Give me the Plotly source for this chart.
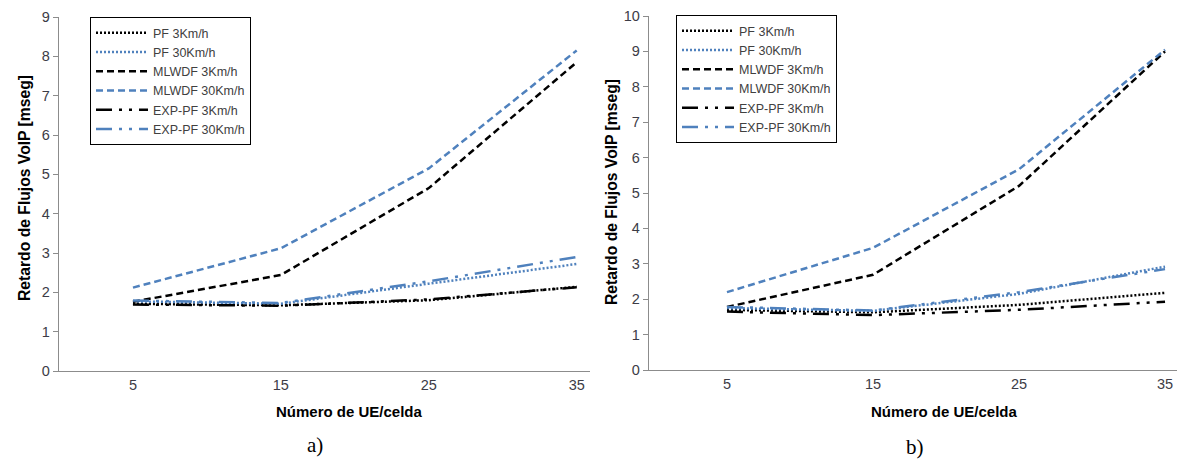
import plotly.graph_objects as go

W, H = 1177, 463

ue = [5, 15, 25, 35]
x_ticks = [5, 15, 25, 35]

# Panel a)
a_pf_3 = [1.71, 1.67, 1.80, 2.14]
a_pf_30 = [1.77, 1.71, 2.22, 2.72]
a_mlwdf_3 = [1.76, 2.44, 4.65, 7.85]
a_mlwdf_30 = [2.12, 3.12, 5.15, 8.15]
a_exp_3 = [1.69, 1.66, 1.82, 2.13]
a_exp_30 = [1.79, 1.73, 2.28, 2.90]

# Panel b)
b_pf_3 = [1.70, 1.63, 1.84, 2.18]
b_pf_30 = [1.75, 1.67, 2.15, 2.92]
b_mlwdf_3 = [1.78, 2.69, 5.20, 9.00]
b_mlwdf_30 = [2.20, 3.45, 5.67, 9.05]
b_exp_3 = [1.65, 1.55, 1.70, 1.93]
b_exp_30 = [1.78, 1.68, 2.20, 2.85]

names = ["PF 3Km/h", "PF 30Km/h", "MLWDF 3Km/h", "MLWDF 30Km/h",
         "EXP-PF 3Km/h", "EXP-PF 30Km/h"]

BLACK = "#000000"
BLUE = "#4F81BD"
DOT = "2px,2px"
DASH = "7px,4px"
LDD = "16px,7px,3px,7px,3px,7px"
styles = [(BLACK, DOT), (BLUE, DOT), (BLACK, DASH), (BLUE, DASH),
          (BLACK, LDD), (BLUE, LDD)]

fig = go.Figure()

for series, xa, ya, leg in [
    ([a_pf_3, a_pf_30, a_mlwdf_3, a_mlwdf_30, a_exp_3, a_exp_30], "x", "y", "legend"),
    ([b_pf_3, b_pf_30, b_mlwdf_3, b_mlwdf_30, b_exp_3, b_exp_30], "x2", "y2", "legend2"),
]:
    for vals, name, (col, dash) in zip(series, names, styles):
        fig.add_trace(go.Scatter(
            x=ue, y=vals, name=name, mode="lines",
            line=dict(color=col, dash=dash, width=2.5),
            xaxis=xa, yaxis=ya, legend=leg,
        ))

def px_x(p):
    return p / W

def px_y(p):
    return 1 - p / H

tickfont = dict(family="Liberation Sans, Arial, sans-serif", size=14.5, color="#3c3c46")
titlefont = dict(family="Liberation Sans, Arial, sans-serif", size=15, color="#000000")
ytitlefont = dict(family="Liberation Sans, Arial, sans-serif", size=15.7, color="#000000")
axis_common = dict(showgrid=False, zeroline=False, showline=True, automargin=False,
                   linecolor="#8c8c8c", linewidth=1.3, tickfont=tickfont)

legend_font = dict(family="Liberation Sans, Arial, sans-serif", size=12.5, color="#404040")

fig.update_layout(
    width=W, height=H,
    margin=dict(l=0, r=0, t=0, b=0, autoexpand=False),
    paper_bgcolor="white", plot_bgcolor="white",
    showlegend=True,
    xaxis=dict(domain=[px_x(59), px_x(590)], range=[0, 35.9],
               tickvals=x_ticks, ticks="", anchor="y", **axis_common),
    yaxis=dict(domain=[px_y(371), px_y(17)], range=[0, 9], dtick=1,
               ticks="outside", ticklen=5, tickcolor="#8c8c8c", anchor="x",
               **axis_common),
    xaxis2=dict(domain=[px_x(649), px_x(1177)], range=[-0.34, 35.82],
                tickvals=x_ticks, ticks="", anchor="y2", **axis_common),
    yaxis2=dict(domain=[px_y(370), px_y(16)], range=[0, 10], dtick=1,
                ticks="outside", ticklen=5, tickcolor="#8c8c8c", anchor="x2",
                **axis_common),
    legend=dict(x=px_x(90), y=px_y(17), xanchor="left", yanchor="top",
                bgcolor="white", bordercolor="#000000", borderwidth=1,
                font=legend_font, itemwidth=52, tracegroupgap=0),
    legend2=dict(x=px_x(676), y=px_y(15), xanchor="left", yanchor="top",
                 bgcolor="white", bordercolor="#000000", borderwidth=1,
                 font=legend_font, itemwidth=52, tracegroupgap=0),
)

ann = []
ytitle = "Retardo de Flujos VoIP [mseg]"
xtitle = "Número de UE/celda"
for xp, yc in [(25, 188), (611, 192)]:
    ann.append(dict(text="<b>" + ytitle + "</b>", x=px_x(xp), y=px_y(yc),
                    xref="paper", yref="paper", showarrow=False, textangle=-90,
                    font=ytitlefont, xanchor="center", yanchor="middle"))
for xp in [350, 945]:
    ann.append(dict(text="<b>" + xtitle + "</b>", x=px_x(xp), y=px_y(411),
                    xref="paper", yref="paper", showarrow=False,
                    font=titlefont, xanchor="center", yanchor="middle"))
for txt, xp, yp in [("a)", 315, 445), ("b)", 915, 447)]:
    ann.append(dict(text=txt, x=px_x(xp), y=px_y(yp), xref="paper", yref="paper",
                    showarrow=False, xanchor="center", yanchor="middle",
                    font=dict(family="Liberation Serif, Times New Roman, serif",
                              size=21, color="#000000")))
fig.update_layout(annotations=ann)

fig.write_html("out.html",
               config={"displayModeBar": False},
               post_script="document.body.style.margin='0px';"
                           "document.body.style.overflow='hidden';")
